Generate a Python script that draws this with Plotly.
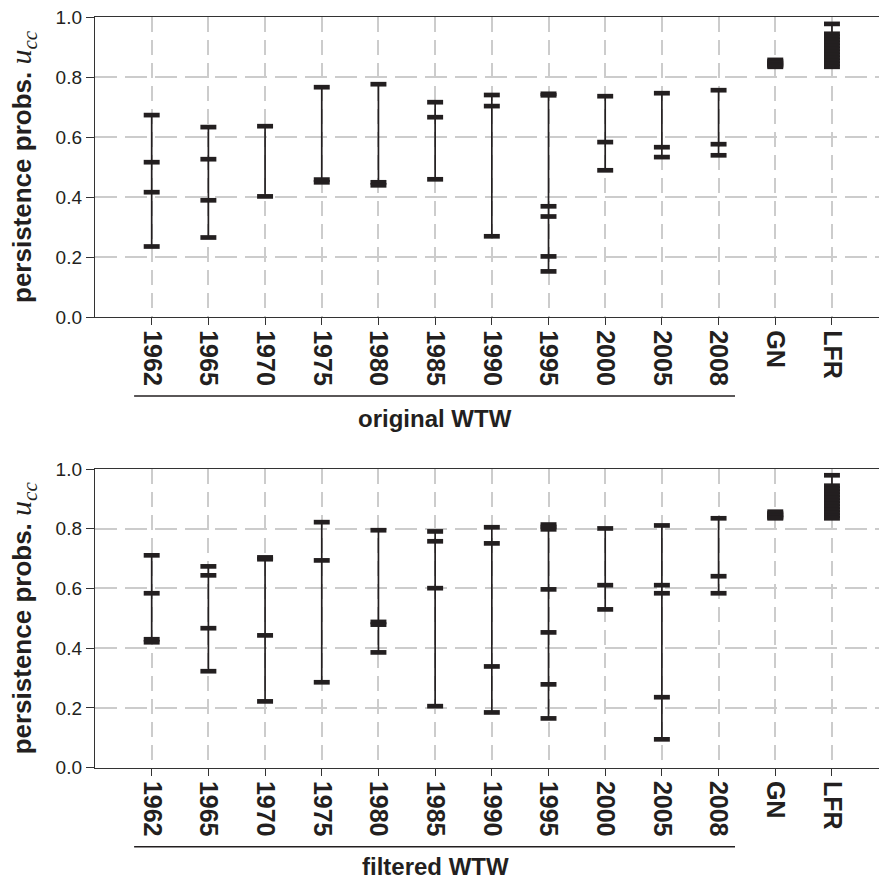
import plotly.graph_objects as go

# ---------------- data ----------------
categories = ["1962", "1965", "1970", "1975", "1980", "1985", "1990",
              "1995", "2000", "2005", "2008", "GN", "LFR"]
n_years = 11

original_wtw = [
    [0.673, 0.516, 0.416, 0.235],                 # 1962
    [0.633, 0.526, 0.389, 0.265],                 # 1965
    [0.636, 0.402],                               # 1970
    [0.766, 0.458, 0.449],                        # 1975
    [0.776, 0.449, 0.439],                        # 1980
    [0.716, 0.666, 0.459],                        # 1985
    [0.740, 0.703, 0.269],                        # 1990
    [0.744, 0.739, 0.369, 0.335, 0.202, 0.152],   # 1995
    [0.736, 0.583, 0.489],                        # 2000
    [0.746, 0.566, 0.533],                        # 2005
    [0.756, 0.576, 0.539],                        # 2008
    [0.857, 0.852, 0.847, 0.842, 0.838, 0.834],   # GN
    [0.977, 0.944, 0.934, 0.924, 0.914, 0.904, 0.894,
     0.884, 0.874, 0.864, 0.854, 0.844, 0.834],   # LFR
]

filtered_wtw = [
    [0.711, 0.584, 0.430, 0.420],                         # 1962
    [0.674, 0.644, 0.467, 0.323],                         # 1965
    [0.704, 0.698, 0.443, 0.222],                         # 1970
    [0.822, 0.694, 0.286],                                # 1975
    [0.795, 0.488, 0.479, 0.386],                         # 1980
    [0.791, 0.758, 0.601, 0.206],                         # 1985
    [0.805, 0.751, 0.339, 0.185],                         # 1990
    [0.814, 0.806, 0.798, 0.597, 0.453, 0.279, 0.165],    # 1995
    [0.801, 0.611, 0.530],                                # 2000
    [0.811, 0.611, 0.584, 0.236, 0.095],                  # 2005
    [0.835, 0.641, 0.584],                                # 2008
    [0.857, 0.852, 0.847, 0.842, 0.838, 0.835],           # GN
    [0.979, 0.944, 0.934, 0.924, 0.914, 0.904, 0.894,
     0.884, 0.874, 0.864, 0.854, 0.844, 0.835],           # LFR
]

y_ticks = [0.0, 0.2, 0.4, 0.6, 0.8, 1.0]
y_tick_labels = ["0.0", "0.2", "0.4", "0.6", "0.8", "1.0"]
group_labels = ["original WTW", "filtered WTW"]

# ---------------- style ----------------
W, H = 879, 881
INK = "#231f20"
FONT = "Liberation Sans, Arial, Helvetica, sans-serif"
GRID = "#cccccc"

fig = go.Figure()

def add_panel(vals, xa, ya):
    xs_l, ys_l, xs_m, ys_m = [], [], [], []
    for cat, v in zip(categories, vals):
        xs_l += [cat, cat, None]
        ys_l += [min(v), max(v), None]
        xs_m += [cat] * len(v)
        ys_m += v
    fig.add_trace(go.Scatter(x=xs_l, y=ys_l, mode="lines", xaxis=xa, yaxis=ya,
                             line=dict(color=INK, width=1.7), showlegend=False,
                             hoverinfo="skip", cliponaxis=False))
    fig.add_trace(go.Scatter(x=xs_m, y=ys_m, mode="markers", xaxis=xa, yaxis=ya,
                             marker=dict(symbol="line-ew", size=11.4, color=INK,
                                         line=dict(color=INK, width=4.7)),
                             showlegend=False, cliponaxis=False))

add_panel(original_wtw, "x", "y")
add_panel(filtered_wtw, "x2", "y2")

x_dom = [95 / W, 1.0]
top_dom = [1 - 317 / H, 1 - 17 / H]
bot_dom = [1 - 767.7 / H, 1 - 469 / H]

def xaxis_cfg(anchor):
    return dict(domain=x_dom, anchor=anchor, type="category",
                categoryorder="array", categoryarray=categories,
                range=[-1, 12.83], tickangle=90,
                tickfont=dict(family=FONT, size=25, color=INK, weight="bold"),
                showgrid=True, gridcolor=GRID, gridwidth=1.5, griddash="15px,8px",
                showline=True, linecolor="#333333", linewidth=1.4, mirror=True,
                ticks="outside", ticklen=7, tickwidth=1.4, tickcolor="#333333",
                zeroline=False, automargin=False, fixedrange=True)

def yaxis_cfg(anchor, dom):
    return dict(domain=dom, anchor=anchor, range=[0, 1],
                tickmode="array", tickvals=y_ticks, ticktext=y_tick_labels,
                tickfont=dict(family=FONT, size=19, color=INK),
                showgrid=True, gridcolor=GRID, gridwidth=1.5, griddash="22px,8px",
                showline=True, linecolor="#333333", linewidth=1.4, mirror=False,
                ticks="outside", ticklen=8, tickwidth=1.4, tickcolor="#333333",
                zeroline=False, automargin=False, fixedrange=True)

ytitle = ('<b>persistence probs.</b> '
          '<span style="font-family:Liberation Serif, DejaVu Serif, serif;font-size:30px">'
          '<i>u</i><sub><i>cc</i></sub></span>')

annotations = []
shapes = []
for i, (xref, dom) in enumerate([("x", top_dom), ("x2", bot_dom)]):
    mid = (dom[0] + dom[1]) / 2
    annotations.append(dict(text=ytitle, xref="paper", yref="paper",
                            x=23 / W, y=mid, textangle=-90, showarrow=False,
                            xanchor="center", yanchor="middle",
                            font=dict(family=FONT, size=26, color=INK)))
    line_y = 1 - (396 if i == 0 else 846.7) / H
    label_y = 1 - (418 if i == 0 else 866) / H
    shapes.append(dict(type="line", xref=xref, yref="paper",
                       x0=-0.31, x1=n_years - 1 + 0.29, y0=line_y, y1=line_y,
                       line=dict(color=INK, width=1.5)))
    annotations.append(dict(text="<b>%s</b>" % group_labels[i], xref=xref, yref="paper",
                            x=(n_years - 1) / 2, y=label_y, showarrow=False,
                            xanchor="center", yanchor="middle",
                            font=dict(family=FONT, size=24, color=INK)))

fig.update_layout(
    width=W, height=H, template="none",
    paper_bgcolor="white", plot_bgcolor="white",
    margin=dict(l=0, r=0, t=0, b=0, pad=0),
    xaxis=xaxis_cfg("y"), yaxis=yaxis_cfg("x", top_dom),
    xaxis2=xaxis_cfg("y2"), yaxis2=yaxis_cfg("x2", bot_dom),
    annotations=annotations, shapes=shapes,
    font=dict(family=FONT, color=INK),
    showlegend=False,
)

fig.write_html("out.html", config={"displayModeBar": False})
